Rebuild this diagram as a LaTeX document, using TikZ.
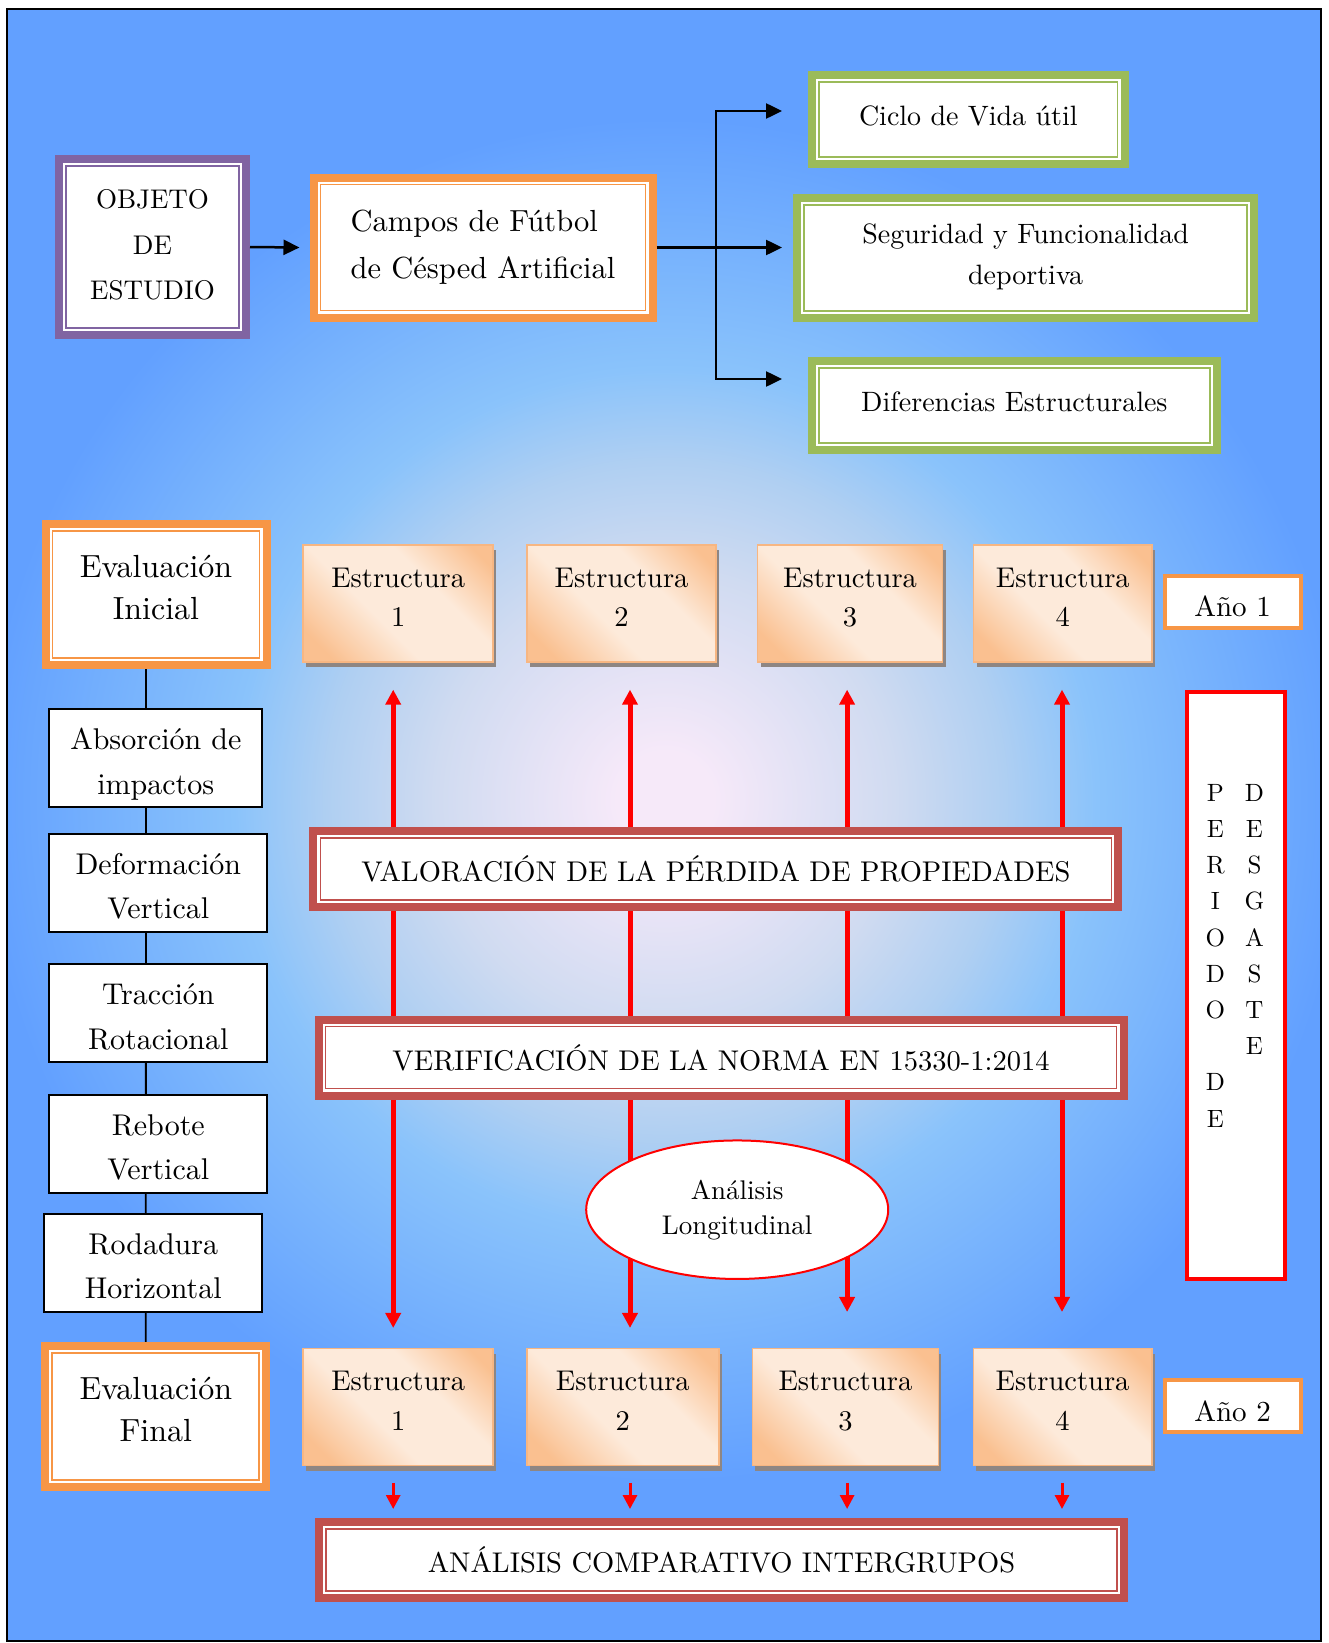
\documentclass[tikz,border=0pt]{standalone}
\usepackage{fontspec}
\setmainfont{lmroman10-regular.otf}
\usetikzlibrary{arrows.meta,positioning,calc,shapes.geometric,shadows}

\definecolor{frameviolet}{HTML}{8064A2}
\definecolor{frameorange}{HTML}{F79646}
\definecolor{framegreen}{HTML}{9BBB59}
\definecolor{framered}{HTML}{C0504D}
\definecolor{peachdark}{HTML}{FAC090}
\definecolor{peachlight}{HTML}{FDEADA}
\definecolor{peachline}{HTML}{F7B682}
\definecolor{shadowgrey}{HTML}{8E8683}
\definecolor{glowA}{HTML}{F6E9F9}
\definecolor{glowB}{HTML}{D0DBF1}
\definecolor{glowC}{HTML}{AFCFF2}
\definecolor{glowD}{HTML}{8AC3FB}
\definecolor{glowE}{HTML}{62A0FF}

\pgfdeclareradialshading{bgglow}{\pgfpointorigin}{color(0bp)=(glowA); color(1.1bp)=(glowA);
  color(5.2bp)=(glowB); color(7.7bp)=(glowC); color(9.8bp)=(glowD); color(15.5bp)=(glowE); color(50bp)=(glowE)}
\pgfdeclarehorizontalshading{estrfill}{100bp}{color(0bp)=(peachdark); color(22bp)=(peachdark);
  color(42bp)=(peachlight); color(62bp)=(peachlight); color(80bp)=(peachdark); color(100bp)=(peachdark)}

\pgfdeclarelayer{background}
\pgfdeclarelayer{back}
\pgfsetlayers{background,back,main}

\begin{document}
\begin{tikzpicture}[x=1pt, y=-1pt,
      every node/.style={align=center, inner sep=0pt},
      framed/.style={draw=#1, line width=8pt, fill=white,
        path picture={\draw[#1, line width=1.8pt]
          ([shift={(7,7)}]path picture bounding box.north west) rectangle
          ([shift={(-7,-7)}]path picture bounding box.south east);}},
      estr/.style={draw=peachline, line width=1.5pt, shade, shading=estrfill, shading angle=45,
        drop shadow={shadow xshift=3pt, shadow yshift=-5pt, fill=shadowgrey, opacity=1},
        minimum height=117pt, text depth=12.6pt, font=\fontsize{28.5}{39.5}\selectfont},
      param/.style={draw, line width=2pt, fill=white, minimum width=218pt, minimum height=98pt,
        text height=78pt, text depth=6pt, font=\fontsize{30}{44.5}\selectfont},
      year/.style={draw=frameorange, line width=4pt, fill=white, minimum width=136pt,
        minimum height=52pt, text height=30pt, font=\fontsize{29}{35}\selectfont},
      phase/.style={framed=frameorange, minimum width=221pt, minimum height=141pt,
        text depth=14pt, font=\fontsize{32}{42}\selectfont},
      stage/.style={framed=framered, minimum width=805pt, minimum height=76pt,
        font=\fontsize{28.5}{35}\selectfont},
      goal/.style={framed=framegreen, minimum height=89pt, text depth=8.4pt,
        font=\fontsize{28}{41}\selectfont},
      blackarrow/.style={>={Triangle[length=16pt, width=15pt]}, ->, line width=2.5pt},
      redarrow/.style={>={Triangle[length=15pt, width=15pt]}, <->, draw=red, line width=5pt},
      smallarrow/.style={>={Triangle[length=14pt, width=14pt]}, ->, draw=red, line width=3pt}]

  \useasboundingbox (0,0) rectangle (1328,1643);

  % objeto de estudio
  \node[framed=frameviolet, minimum width=187pt, minimum height=176pt, text depth=5pt,
        font=\fontsize{27}{45.5}\selectfont] (objeto) at (152.5,247) {OBJETO\\DE\\ESTUDIO};
  \node[framed=frameorange, minimum width=339pt, minimum height=140pt, align=left,
        font=\fontsize{30.5}{47}\selectfont] (campos) at (483,247.5) {Campos de Fútbol\\de Césped Artificial};
  \node[goal, minimum width=312.5pt] (ciclo) at (968.3,119.5) {Ciclo de Vida útil};
  \node[goal, minimum width=456.6pt, minimum height=119.7pt] (seguridad) at (1025.6,257.9)
    {Seguridad y Funcionalidad\\deportiva};
  \node[goal, minimum width=404.6pt] (diferencias) at (1014.3,405.8) {Diferencias Estructurales};

  \coordinate (split) at (716,247.5);
  \coordinate (tociclo) at (782,111);
  \coordinate (toseg) at (782,247.5);
  \coordinate (todif) at (782,379);
  \draw[blackarrow] (objeto.east) -- ([xshift=-10pt]campos.west);
  \draw[line width=2.5pt] (campos.east) -- (split);
  \draw[blackarrow] (split) |- (tociclo);
  \draw[blackarrow] (split) -- (toseg);
  \draw[blackarrow] (split) |- (todif);

  % evaluaciones y estructuras
  \node[phase] (evalini) at (156,594.5) {Evaluación\\Inicial};
  \node[estr, minimum width=190pt] (estA1) at (398.2,603.4) {Estructura\\1};
  \node[estr, minimum width=189pt] (estA2) at (621.6,603.4) {Estructura\\2};
  \node[estr, minimum width=185pt] (estA3) at (850.1,603.4) {Estructura\\3};
  \node[estr, minimum width=178.5pt] (estA4) at (1062.8,603.4) {Estructura\\4};
  \node[year] (anio1) at (1232.6,602) {Año 1};

  \node[param, minimum width=213pt] (absorcion) at (155.8,758.4) {Absorción de\\impactos};
  \node[param] (deformacion) at (158.3,882.9) {Deformación\\Vertical};
  \node[param] (traccion) at (158.3,1013.1) {Tracción\\Rotacional};
  \node[param] (rebote) at (158.3,1143.5) {Rebote\\Vertical};
  \node[param] (rodadura) at (153.3,1262.9) {Rodadura\\Horizontal};

  \node[stage] (valoracion) at (715.9,868.7) {VALORACIÓN DE LA PÉRDIDA DE PROPIEDADES};
  \node[stage] (verificacion) at (721,1057.5) {VERIFICACIÓN DE LA NORMA EN 15330-1:2014};
  \node[ellipse, draw=red, line width=2pt, fill=white, minimum width=302pt, minimum height=138.5pt,
        font=\fontsize{27}{35}\selectfont] (longitudinal) at (737.2,1209.7) {Análisis\\Longitudinal};

  \node[draw=red, line width=4pt, fill=white, minimum width=97.7pt, minimum height=587pt]
    (periodo) at (1235.9,985.5) {};
  \node[font=\fontsize{25}{36.2}\selectfont] (desgaste) at (1235,957)
    {\begin{tabular}{@{}c@{\hspace{19.5pt}}c@{}}
      P & D\\ E & E\\ R & S\\ I & G\\ O & A\\ D & S\\ O & T\\ & E\\ D & \\ E &
    \end{tabular}};

  \node[phase] (evalfin) at (155.8,1416.4) {Evaluación\\Final};
  \node[estr, minimum width=190pt] (estB1) at (398.2,1407.2) {Estructura\\1};
  \node[estr, minimum width=192pt] (estB2) at (622.8,1407.2) {Estructura\\2};
  \node[estr, minimum width=186pt] (estB3) at (845.4,1407.2) {Estructura\\3};
  \node[estr, minimum width=178.5pt] (estB4) at (1062.6,1407.2) {Estructura\\4};
  \node[year] (anio2) at (1232.5,1406.3) {Año 2};

  \node[stage] (comparativo) at (721.5,1560) {ANÁLISIS COMPARATIVO INTERGRUPOS};

  \begin{pgfonlayer}{back}
    \draw[line width=1.8pt] ([xshift=-10pt]evalini.south) -- ([xshift=-10pt]evalfin.north);
    \foreach \i/\dx/\gap in {1/-5/20, 2/8.4/20, 3/-3/36, 4/-0.8/36} {
      \draw[redarrow] ($(estA\i.south)+(\dx,27)$) coordinate (top\i)
        -- ($(top\i |- estB\i.north)+(0,-\gap)$);
      \draw[smallarrow] ($(top\i |- estB\i.south)+(0,16.5)$) -- ($(top\i |- comparativo.north)+(0,-9)$);
    }
  \end{pgfonlayer}

  \begin{pgfonlayer}{background}
    \fill[white] (0,0) rectangle (1328,1643);
    \begin{scope}
      \clip (7,9) rectangle (1321,1641);
      \shade[shading=bgglow] (665,800) circle[radius=1100pt];
    \end{scope}
    \draw[line width=1.5pt] (7,9) rectangle (1321,1641);
  \end{pgfonlayer}
\end{tikzpicture}
\end{document}
